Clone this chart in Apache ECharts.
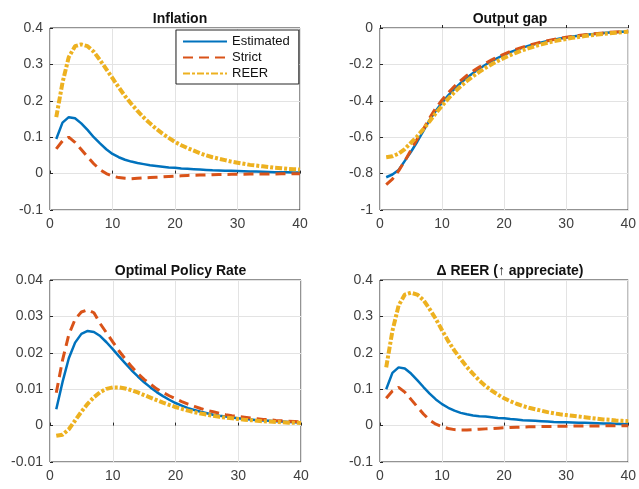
<!DOCTYPE html>
<html>
<head>
<meta charset="utf-8">
<script src="https://cdn.jsdelivr.net/npm/echarts@6/dist/echarts.min.js"></script>
<style>
  html, body { margin: 0; padding: 0; background: #fff; }
  #chart { width: 639px; height: 489px; }
</style>
</head>
<body>
<div id="chart"></div>
<script>
const periods = [1,2,3,4,5,6,7,8,9,10,11,12,13,14,15,16,17,18,19,20,21,22,23,24,25,26,27,28,29,30,31,32,33,34,35,36,37,38,39,40];
const seriesNames = ['Estimated', 'Strict', 'REER'];
const panelTitles = ['Inflation', 'Output gap', 'Optimal Policy Rate', '\u0394 REER (\u2191 appreciate)'];

// inflation
const inflEstimated = [0.095,0.14,0.155,0.152,0.138,0.12,0.1,0.083,0.067,0.054,0.045,0.038,0.033,0.029,0.026,0.023,0.021,0.019,0.017,0.016,0.014,0.013,0.012,0.011,0.01,0.009,0.0085,0.008,0.0075,0.007,0.0065,0.006,0.0055,0.005,0.0045,0.004,0.0037,0.0034,0.003,0.0028];
const inflStrict = [0.068,0.09,0.1,0.086,0.066,0.046,0.027,0.011,0.0,-0.007,-0.011,-0.013,-0.014,-0.013,-0.012,-0.011,-0.01,-0.009,-0.008,-0.007,-0.006,-0.005,-0.0045,-0.004,-0.0035,-0.003,-0.0027,-0.0024,-0.0021,-0.0018,-0.0016,-0.0014,-0.0012,-0.001,-0.0009,-0.0008,-0.0007,-0.0006,-0.0005,-0.0004];
const inflReer = [0.155,0.25,0.32,0.35,0.355,0.35,0.335,0.312,0.287,0.262,0.237,0.213,0.192,0.172,0.154,0.138,0.123,0.11,0.098,0.087,0.078,0.07,0.063,0.056,0.05,0.045,0.041,0.037,0.033,0.03,0.027,0.024,0.022,0.02,0.018,0.016,0.015,0.013,0.012,0.011];

// output gap
const gapEstimated = [-0.82,-0.805,-0.78,-0.73,-0.68,-0.625,-0.565,-0.505,-0.455,-0.41,-0.37,-0.334,-0.302,-0.273,-0.247,-0.224,-0.202,-0.182,-0.164,-0.148,-0.133,-0.12,-0.108,-0.097,-0.088,-0.079,-0.071,-0.064,-0.058,-0.052,-0.047,-0.042,-0.038,-0.034,-0.031,-0.028,-0.025,-0.023,-0.021,-0.019];
const gapStrict = [-0.86,-0.83,-0.785,-0.73,-0.67,-0.61,-0.555,-0.495,-0.44,-0.395,-0.356,-0.32,-0.289,-0.261,-0.237,-0.215,-0.194,-0.175,-0.158,-0.143,-0.129,-0.116,-0.105,-0.095,-0.086,-0.077,-0.07,-0.063,-0.057,-0.051,-0.046,-0.041,-0.037,-0.033,-0.03,-0.027,-0.024,-0.022,-0.02,-0.018];
const gapReer = [-0.71,-0.705,-0.69,-0.665,-0.63,-0.595,-0.555,-0.512,-0.468,-0.427,-0.388,-0.352,-0.32,-0.291,-0.265,-0.241,-0.219,-0.199,-0.181,-0.164,-0.149,-0.135,-0.122,-0.111,-0.1,-0.09,-0.081,-0.073,-0.066,-0.06,-0.054,-0.049,-0.044,-0.04,-0.036,-0.032,-0.029,-0.026,-0.023,-0.021];

// optimal policy rate
const rateEstimated = [0.0045,0.012,0.0185,0.0228,0.0252,0.026,0.0257,0.0246,0.0229,0.021,0.019,0.0171,0.0152,0.0135,0.0119,0.0105,0.0092,0.0081,0.0071,0.0062,0.0055,0.0048,0.0043,0.0038,0.0034,0.003,0.0027,0.0025,0.0022,0.002,0.0018,0.0017,0.0015,0.0014,0.0013,0.0012,0.0011,0.001,0.0009,0.0008];
const rateStrict = [0.009,0.018,0.025,0.0292,0.0312,0.0318,0.031,0.028,0.0255,0.023,0.0205,0.0183,0.0162,0.0143,0.0127,0.0114,0.0101,0.0091,0.0082,0.0074,0.0066,0.0059,0.0053,0.0047,0.0042,0.0038,0.0034,0.003,0.0027,0.0025,0.0023,0.0021,0.0019,0.0017,0.0016,0.0014,0.0013,0.0012,0.0011,0.001];
const rateReer = [-0.0028,-0.0025,-0.001,0.0014,0.0038,0.006,0.0078,0.0092,0.0101,0.0105,0.0105,0.0102,0.0097,0.0091,0.0084,0.0077,0.007,0.0063,0.0057,0.0051,0.0046,0.0041,0.0037,0.0033,0.003,0.0027,0.0024,0.0022,0.002,0.0018,0.0016,0.0015,0.0013,0.0012,0.0011,0.001,0.0009,0.0008,0.0008,0.0007];

// change in REER
const reerEstimated = [0.1,0.145,0.16,0.157,0.143,0.125,0.106,0.088,0.072,0.059,0.049,0.041,0.035,0.031,0.028,0.026,0.025,0.023,0.021,0.02,0.018,0.017,0.015,0.014,0.013,0.012,0.011,0.01,0.0095,0.009,0.0085,0.008,0.0075,0.007,0.0065,0.006,0.0055,0.005,0.0045,0.004];
const reerStrict = [0.075,0.095,0.105,0.092,0.072,0.052,0.032,0.015,0.004,-0.003,-0.008,-0.011,-0.012,-0.012,-0.011,-0.01,-0.009,-0.008,-0.007,-0.006,-0.005,-0.0045,-0.004,-0.0035,-0.003,-0.0027,-0.0024,-0.0021,-0.0018,-0.0016,-0.0014,-0.0012,-0.001,-0.0009,-0.0008,-0.0007,-0.0006,-0.0005,-0.0004,-0.0003];
const reerReer = [0.16,0.26,0.33,0.36,0.365,0.36,0.345,0.32,0.293,0.262,0.232,0.206,0.183,0.161,0.142,0.124,0.109,0.096,0.085,0.075,0.067,0.06,0.054,0.049,0.045,0.041,0.037,0.034,0.031,0.029,0.027,0.025,0.023,0.021,0.019,0.017,0.016,0.014,0.013,0.012];

const yMin = [-0.1, -1, -0.01, -0.1];
const yMax = [0.4, 0, 0.04, 0.4];
const yStep = [0.1, 0.2, 0.01, 0.1];
const xTicks = [0, 40, 10];

const panels = [
  [inflEstimated, inflStrict, inflReer],
  [gapEstimated, gapStrict, gapReer],
  [rateEstimated, rateStrict, rateReer],
  [reerEstimated, reerStrict, reerReer]
];

const font = "'Liberation Sans', Arial, Helvetica, sans-serif";
const colors = ['#0072BD', '#D95319', '#EDB120'];
const lineStyles = [
  { width: 2.5, type: 'solid' },
  { width: 3, type: [10, 6] },
  { width: 4, type: [7, 2, 3, 2] }
];

const boxes = [
  { left: 50, top: 28, width: 250, height: 182 },
  { left: 380, top: 28, width: 250, height: 182 },
  { left: 50, top: 280, width: 251, height: 182 },
  { left: 380, top: 280, width: 250, height: 182 }
];

const fmt = v => String(+v.toFixed(3));

let myChart = echarts.init(document.getElementById('chart'), null, { renderer: 'canvas' });
let option;

option = {
  backgroundColor: '#fff',
  animation: false,
  textStyle: { fontFamily: font },
  title: panelTitles.map((t, i) => ({
    text: t,
    left: boxes[i].left + boxes[i].width / 2,
    top: i < 2 ? 7 : 259,
    textAlign: 'center',
    textStyle: { fontSize: 14, fontWeight: 'bold', color: '#111', fontFamily: font }
  })),
  legend: {
    data: seriesNames,
    orient: 'vertical',
    left: 176,
    top: 30,
    padding: [5, 9, 4, 6],
    itemGap: 3,
    itemWidth: 44,
    itemHeight: 14,
    backgroundColor: '#fff',
    borderColor: '#262626',
    borderWidth: 1,
    borderRadius: 0,
    itemStyle: { opacity: 0 },
    textStyle: { fontSize: 13, color: '#111', fontFamily: font }
  },
  grid: boxes.map(b => ({
    left: b.left, top: b.top, width: b.width, height: b.height,
    show: true, borderColor: '#262626', borderWidth: 1, backgroundColor: '#fff'
  })),
  xAxis: boxes.map((b, i) => ({
    type: 'value',
    gridIndex: i,
    min: xTicks[0],
    max: xTicks[1],
    interval: xTicks[2],
    axisLine: { show: false },
    axisTick: { show: true, inside: true, length: 3, lineStyle: { color: '#262626' } },
    splitLine: { show: true, lineStyle: { color: '#e3e3e3', width: 1 } },
    axisLabel: { fontSize: 14, color: '#404040', margin: 7, fontFamily: font }
  })),
  yAxis: boxes.map((b, i) => ({
    type: 'value',
    gridIndex: i,
    min: yMin[i],
    max: yMax[i],
    interval: yStep[i],
    axisLine: { show: false },
    axisTick: { show: true, inside: true, length: 3, lineStyle: { color: '#262626' } },
    splitLine: { show: true, lineStyle: { color: '#e3e3e3', width: 1 } },
    axisLabel: { fontSize: 14, color: '#404040', margin: 7, fontFamily: font, formatter: fmt }
  })),
  series: []
};

panels.forEach((vals, i) => {
  vals.forEach((ys, k) => {
    option.series.push({
      name: seriesNames[k],
      type: 'line',
      xAxisIndex: i,
      yAxisIndex: i,
      showSymbol: false,
      symbol: 'none',
      color: colors[k],
      lineStyle: { color: colors[k], width: lineStyles[k].width, type: lineStyles[k].type },
      data: periods.map((p, j) => [p, ys[j]])
    });
  });
});

option && myChart.setOption(option);
</script>
</body>
</html>
